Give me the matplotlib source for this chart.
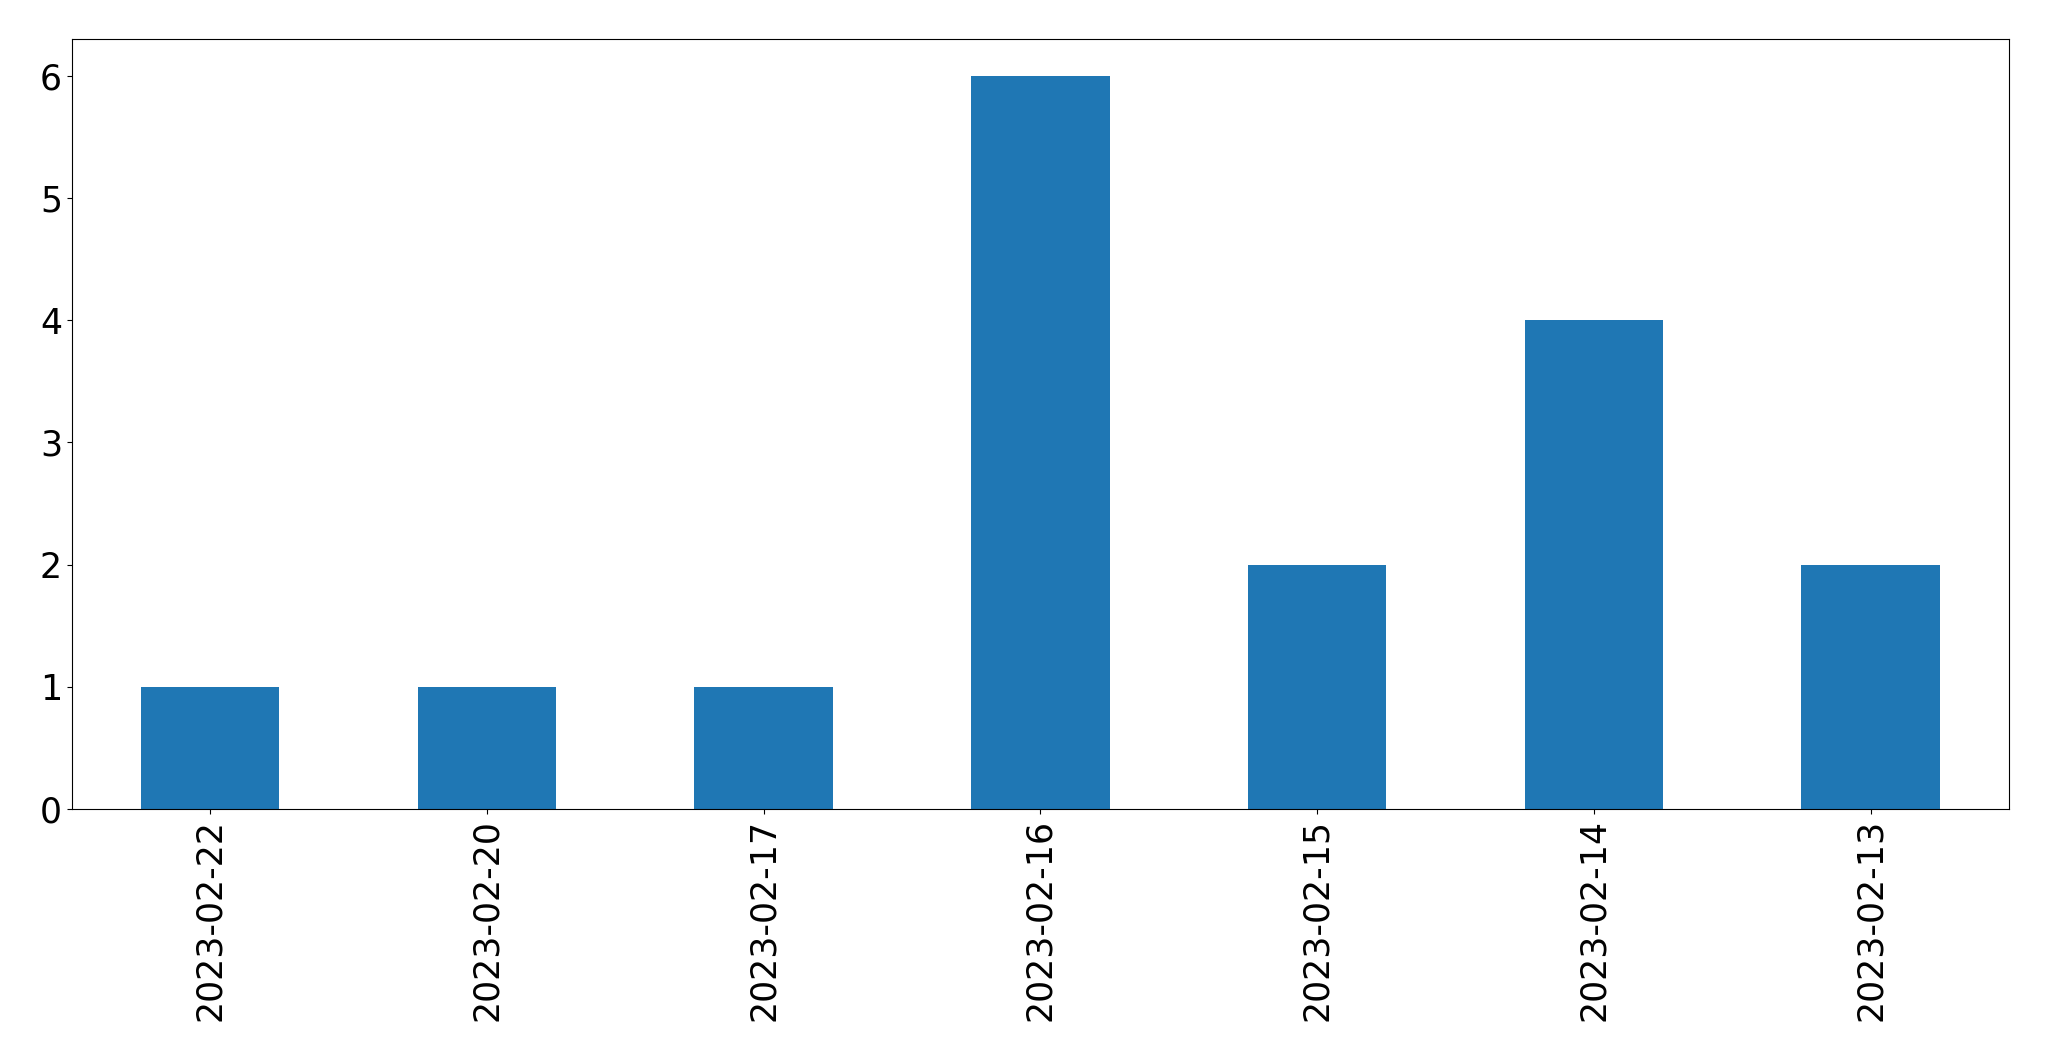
import matplotlib
matplotlib.use("Agg")
import matplotlib.pyplot as plt
import numpy as np

dates = ['2023-02-22', '2023-02-20', '2023-02-17', '2023-02-16',
         '2023-02-15', '2023-02-14', '2023-02-13']
counts = [1, 1, 1, 6, 2, 4, 2]

fig, ax = plt.subplots(figsize=(20.49, 10.61), dpi=100)
ind = np.arange(len(dates))
ax.bar(ind, counts, 0.5, color='#1f77b4')
ax.set_xlim(-0.5, len(dates) - 0.5)
ax.set_xticks(ind)
ax.set_xticklabels(dates, rotation=90)
ax.tick_params(labelsize=25)
fig.subplots_adjust(left=0.035, right=0.9805, top=0.963, bottom=0.2375)
fig.savefig('out.png', dpi=100)
